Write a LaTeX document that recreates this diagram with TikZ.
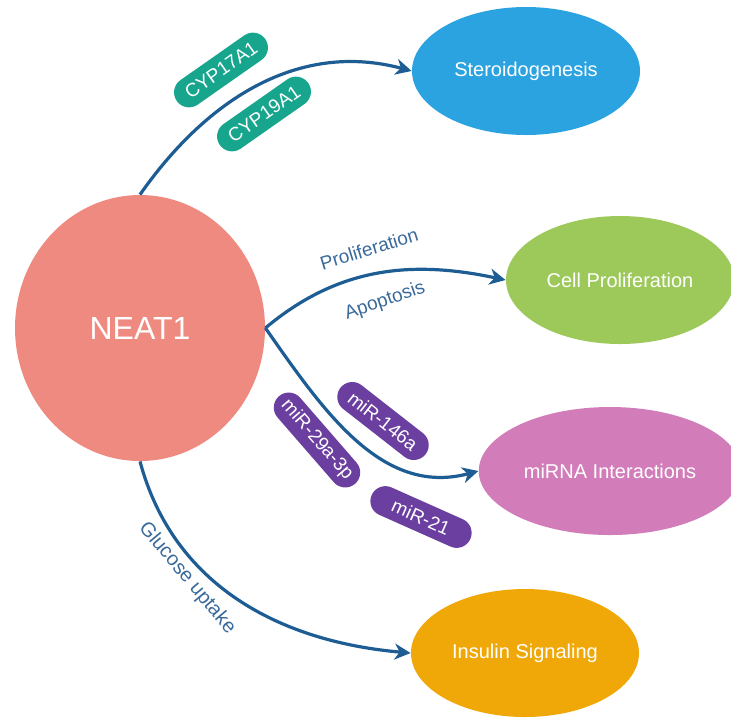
\documentclass[tikz,border=0pt]{standalone}
\usepackage{fontspec}
\setmainfont{Liberation Sans}
\usetikzlibrary{arrows.meta, shapes.geometric}

\definecolor{neatred}{HTML}{EF8A80}
\definecolor{sterblue}{HTML}{2AA3E0}
\definecolor{cellgreen}{HTML}{9DC85A}
\definecolor{mirpink}{HTML}{D27DB9}
\definecolor{insorange}{HTML}{F0A808}
\definecolor{geneteal}{HTML}{17A68D}
\definecolor{mirpurple}{HTML}{6B3FA0}
\definecolor{linkblue}{HTML}{1E5D93}
\definecolor{labblue}{HTML}{3A6A9A}

\begin{document}
\begin{tikzpicture}[x=0.5pt, y=0.5pt,
	hub/.style={ellipse, fill=neatred, text=white, minimum width=125pt, minimum height=133pt, font=\fontsize{16}{18}\selectfont},
	target/.style={ellipse, text=white, minimum width=114pt, minimum height=64pt, font=\fontsize{10}{12}\selectfont},
	pill/.style={rectangle, rounded corners=7.5pt, text=white, minimum width=54pt, minimum height=15pt, inner sep=0pt, font=\fontsize{9.5}{11}\selectfont},
	link/.style={line width=1.6pt, draw=linkblue, -{Stealth[length=8pt, width=8pt, inset=2.5pt]}},
	lab/.style={text=labblue, font=\fontsize{9.5}{11}\selectfont}]
	\useasboundingbox (0, 0) rectangle (731, -719);

	\node[hub] (neat) at (140, -328) {NEAT1};

	\node[target, fill=sterblue] (stero) at (526, -71) {Steroidogenesis};
	\node[target, fill=cellgreen] (cell) at (620, -280) {Cell Proliferation};
	\node[target, fill=mirpink] (mirna) at (610, -471) {miRNA Interactions};
	\node[target, fill=insorange] (insulin) at (525, -653) {Insulin Signaling};

	% Draw the arrows from NEAT1 to each effect
	\draw[link] (neat.north) to[out=55, in=165] (stero.west);
	\draw[link] (neat.east) to[out=40, in=168] (cell.west);
	\draw[link] (neat.east) to[out=-55, in=195] (mirna.west);
	\draw[link] (neat.south) to[out=-75, in=175] (insulin.west);

	% Genes and miRNAs on the arrows
	\node[pill, fill=geneteal, rotate=35] (cyp17) at (221, -70) {CYP17A1};
	\node[pill, fill=geneteal, rotate=35] (cyp19) at (264, -114) {CYP19A1};
	\node[pill, fill=mirpurple, rotate=-38] (mir146) at (383, -421) {miR-146a};
	\node[pill, fill=mirpurple, rotate=-49, minimum width=58pt] (mir29) at (317, -440) {miR-29a-3p};
	\node[pill, fill=mirpurple, rotate=-24] (mir21) at (421, -517) {miR-21};

	% Text labels beside the arrows
	\node[lab, rotate=17] (prolif) at (369, -249) {Proliferation};
	\node[lab, rotate=19] (apop) at (385, -301) {Apoptosis};
	\node[lab, rotate=-50, font=\fontsize{10}{12}\selectfont] (gluc) at (187, -578) {Glucose uptake};
\end{tikzpicture}
\end{document}
